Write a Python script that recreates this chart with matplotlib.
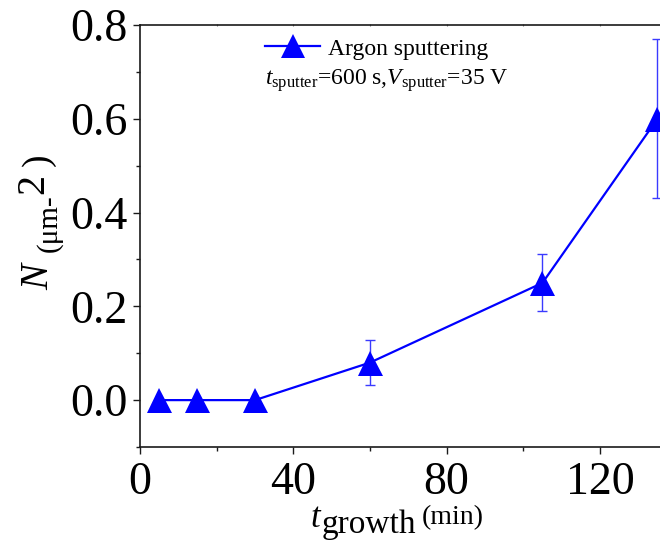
import matplotlib
matplotlib.use("Agg")
import matplotlib.pyplot as plt
from matplotlib.ticker import MultipleLocator

plt.rcParams["font.family"] = ["Liberation Serif", "DejaVu Serif"]
plt.rcParams["mathtext.fontset"] = "custom"
plt.rcParams["mathtext.rm"] = "Liberation Serif"
plt.rcParams["mathtext.it"] = "Liberation Serif:italic"

# Growth time (min), island density N (um^-2) and its uncertainty
t_growth = [5, 15, 30, 60, 105, 135]
density = [0.0, 0.0, 0.0, 0.08, 0.25, 0.60]
density_err = [0.0, 0.0, 0.0, 0.048, 0.061, 0.17]
series_label = "Argon sputtering"
x_ticks = [0, 40, 80, 120]
y_ticks = [0.0, 0.2, 0.4, 0.6, 0.8]

W, H = 660, 555
fig = plt.figure(figsize=(W / 100, H / 100), dpi=100)


def fx(x):
    return x / W


def fy(y):
    return 1 - y / H


ax = fig.add_axes([fx(140), fy(447), fx(660) - fx(140), fy(25) - fy(447)])

blue = "#0000ff"
ax.errorbar(t_growth, density, yerr=density_err, fmt="none", ecolor="#3a3aff",
            elinewidth=1.0, capsize=3.5, capthick=1.0, zorder=2)
ax.plot(t_growth, density, "-^", color=blue, lw=1.6, markersize=18,
        markeredgewidth=0, label=series_label, zorder=3)

ax.set_xlim(0, 520 / 3.833)
ax.set_ylim(-0.1, 0.8)
ax.set_xticks(x_ticks)
ax.set_yticks(y_ticks)
ax.set_xticklabels([str(v) for v in x_ticks])
ax.set_yticklabels([f"{v:.1f}" for v in y_ticks])
ax.xaxis.set_minor_locator(MultipleLocator(20))
ax.yaxis.set_minor_locator(MultipleLocator(0.1))

spine_color = "#1a1a1a"
for side in ("left", "bottom", "top"):
    ax.spines[side].set_linewidth(1.2)
    ax.spines[side].set_color(spine_color)
ax.spines["right"].set_visible(False)

ax.tick_params(axis="both", which="major", direction="out", length=5, width=1.0,
               color=spine_color, labelsize=33)
ax.tick_params(axis="both", which="minor", direction="out", length=3, width=1.0,
               color=spine_color)
ax.tick_params(axis="y", which="major", pad=4)
ax.tick_params(axis="x", which="major", pad=5.5)

top = ax.secondary_xaxis("top")
top.set_xticks(x_ticks)
top.xaxis.set_minor_locator(MultipleLocator(20))
top.tick_params(which="both", direction="inout", length=2, width=0.8,
                color="#777777", labeltop=False)
top.spines["top"].set_visible(False)

leg = ax.legend(loc="upper left", bbox_to_anchor=(fx(265), fy(38)),
                bbox_transform=fig.transFigure, frameon=False, fontsize=17,
                numpoints=1, handlelength=2.35, handletextpad=0.3,
                borderpad=0, borderaxespad=0, markerscale=0.95)

fig.text(fx(265), fy(85), r"$t_{\rm sputter}$=600 s,$V_{\rm sputter}$=35 V",
         fontsize=17, ha="left", va="baseline")

# x-axis label pieces
fig.text(fx(310), fy(527), "t", fontsize=25, style="italic", ha="left", va="baseline")
fig.text(fx(322), fy(533), "growth", fontsize=24, ha="left", va="baseline")
fig.text(fx(422), fy(524), "(min)", fontsize=20, ha="left", va="baseline")

# y-axis label pieces (rotated)
rot = dict(rotation=90, rotation_mode="anchor", ha="left", va="baseline")
fig.text(fx(48), fy(290), "N", fontsize=28, style="italic", **rot)
fig.text(fx(56), fy(252), "(\u03bcm-", fontsize=21, **rot)
fig.text(fx(43), fy(194), "2", fontsize=29, **rot)
fig.text(fx(48), fy(166), ")", fontsize=27, **rot)

fig.savefig("out.png", dpi=100)
